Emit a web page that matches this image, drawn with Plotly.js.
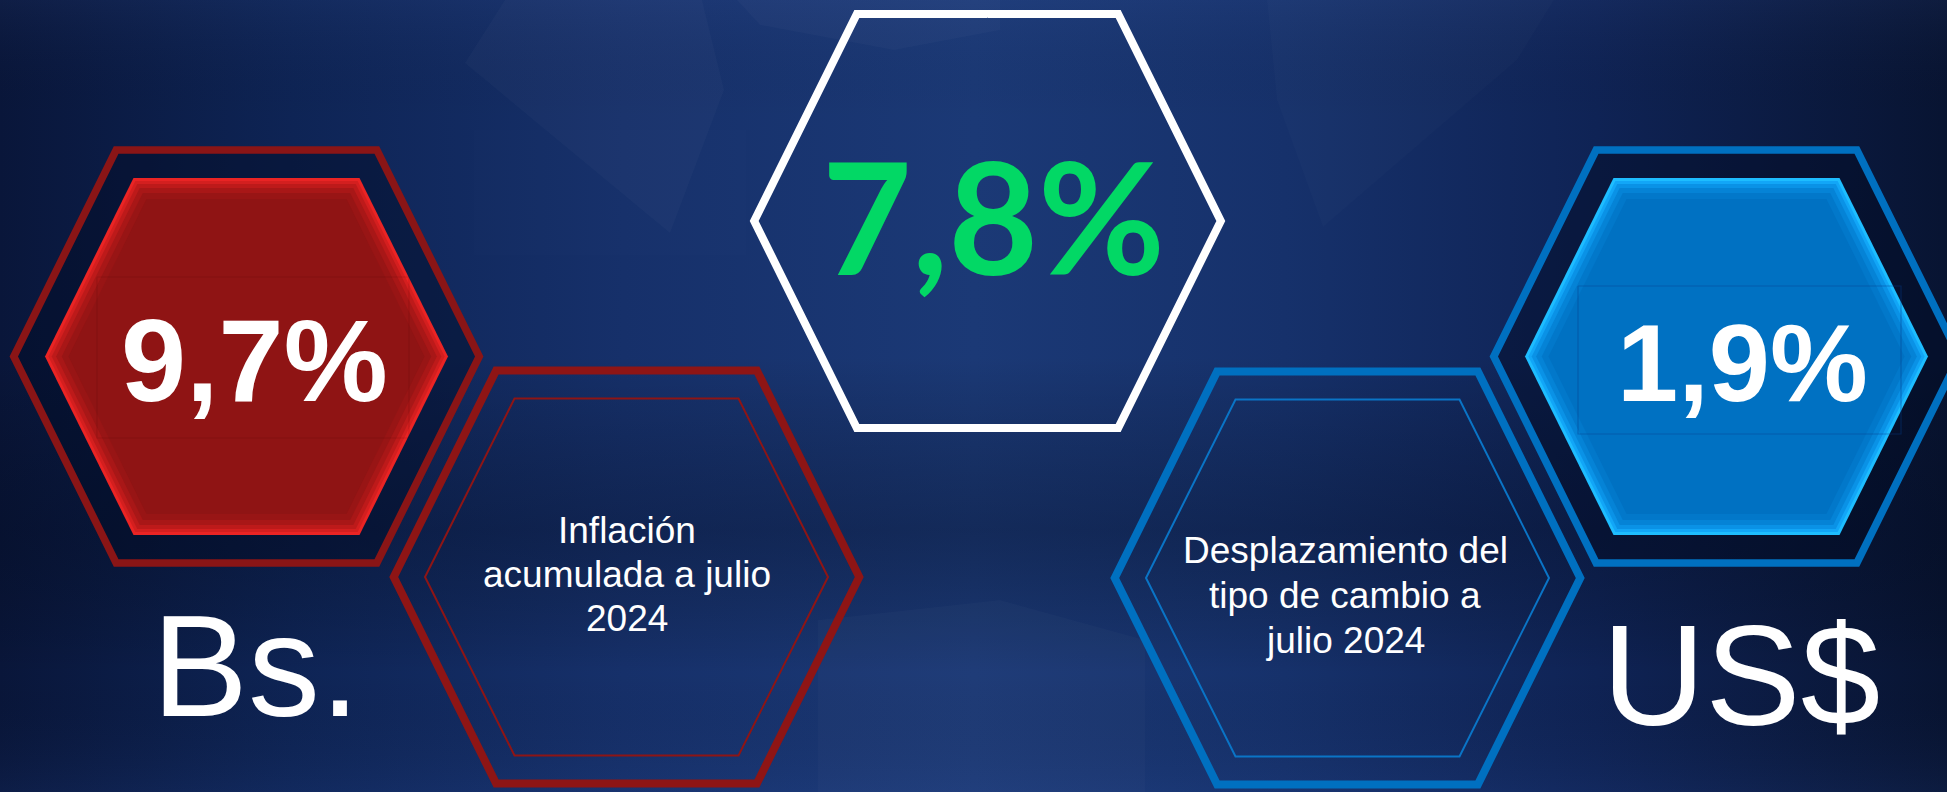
<!DOCTYPE html>
<html><head><meta charset="utf-8">
<script src="https://cdn.plot.ly/plotly-3.0.1.min.js"></script>
<style>html,body{margin:0;padding:0;background:#0d1f4d;overflow:hidden}#chart{width:1947px;height:792px}</style>
</head><body><div id="chart"></div>
<script>
// ---------------- DATA ----------------
const values = [9.7, 7.8, 1.9];            // Bs. inflation, total, US$ exchange shift
const currencies = ['Bs.', 'US$'];
const descInflacion = ['Inflación', 'acumulada a julio', '2024'];
const descCambio = ['Desplazamiento del', 'tipo de cambio a', 'julio 2024'];

// ---------------- GEOMETRY / STYLE ----------------
const W = 1947, H = 792;
const A0 = 201.5, B0 = 113, H0 = 178.5;
const L0 = Math.hypot(A0 - B0, H0);
function grow(d) { const a = A0 + d * L0 / H0; const h = H0 + d; const b = a - (A0 - B0) * h / H0; return {a, b, h}; }
function hexPts(cx, cy, g) {
  const px = [cx, cx + g.b, cx + g.a, cx + g.b, cx - g.b, cx - g.a, cx - g.b, cx];
  const py = [cy - g.h, cy - g.h, cy, cy + g.h, cy + g.h, cy, cy - g.h, cy - g.h];
  return {x: px, y: py.map(v => H - v)};
}
function polyPts(list) { const x = list.map(p => p[0]); const y = list.map(p => H - p[1]); x.push(x[0]); y.push(y[0]); return {x, y}; }
function fillTrace(p, color) { return {type: 'scatter', mode: 'lines', x: p.x, y: p.y, fill: 'toself', fillcolor: color, line: {width: 0, color: 'rgba(0,0,0,0)'}, hoverinfo: 'skip'}; }
function lineTrace(p, color, width) { return {type: 'scatter', mode: 'lines', x: p.x, y: p.y, line: {color: color, width: width}, hoverinfo: 'skip'}; }

const C = {
  leftFill: [246.5, 356.5], midRed: [626.5, 577], white: [987.5, 221],
  midBlue: [1347.5, 578], rightFill: [1726.5, 356.5]
};
const ring = grow(28);
const thin = {a: 201.5, b: 112, h: 178.5};

const traces = [];
// background horizontal gradient
const bg = polyPts([[0,0],[W,0],[W,H],[0,H]]);
traces.push({type:'scatter', mode:'lines', x:bg.x, y:bg.y, fill:'toself', line:{width:0},
  fillgradient:{type:'horizontal', colorscale:[[0,'#09163a'],[0.15,'#0e2455'],[0.32,'#16306a'],[0.5,'#1b3976'],[0.66,'#16316b'],[0.82,'#0f2355'],[1,'#081432']]},
  hoverinfo:'skip'});
// vertical shading overlay
traces.push({type:'scatter', mode:'lines', x:bg.x, y:bg.y, fill:'toself', line:{width:0},
  fillgradient:{type:'vertical', colorscale:[[0,'rgba(40,75,150,0.14)'],[0.15,'rgba(0,0,0,0)'],[0.33,'rgba(2,8,25,0.30)'],[0.55,'rgba(0,0,0,0)'],[0.85,'rgba(0,0,0,0)'],[1,'rgba(70,100,170,0.10)']]},
  hoverinfo:'skip'});
// faceted texture (subtle)
const facets = [
  [[465,63],[505,0],[702,0],[724,90],[670,233]],
  [[737,0],[1000,0],[1000,30],[894,50],[760,25]],
  [[1267,0],[1554,0],[1517,60],[1323,227],[1277,100]],
  [[818,620],[1000,600],[1145,640],[1145,792],[818,792]],
  [[474,130],[746,130],[746,255],[474,255]]
];
const facetAlpha = [0.025, 0.022, 0.016, 0.02, 0.008];
facets.forEach((f, i) => traces.push(fillTrace(polyPts(f), 'rgba(255,255,255,' + facetAlpha[i] + ')')));

// dark interior for outer rings (left & right)
traces.push(fillTrace(hexPts(C.leftFill[0], C.leftFill[1], ring), 'rgba(3,12,35,0.45)'));
traces.push(fillTrace(hexPts(C.rightFill[0], C.rightFill[1], ring), 'rgba(3,12,35,0.45)'));

// rings
traces.push(lineTrace(hexPts(C.leftFill[0], C.leftFill[1], ring), '#8a1516', 7.5));
traces.push(lineTrace(hexPts(C.rightFill[0], C.rightFill[1], ring), '#0070c0', 7.5));
traces.push(lineTrace(hexPts(C.midRed[0], C.midRed[1], ring), '#8e1515', 8));
traces.push(lineTrace(hexPts(C.midBlue[0], C.midBlue[1], ring), '#0070c0', 8));
traces.push(lineTrace(hexPts(C.white[0], C.white[1], grow(28.5)), '#ffffff', 8));
// thin inner lines
traces.push(lineTrace(hexPts(C.midRed[0], C.midRed[1], thin), '#8e1515', 2));
traces.push(lineTrace(hexPts(C.midBlue[0], C.midBlue[1], thin), '#0a74c6', 2));

// bevelled filled hexagons
const insets = [0, 3, 6, 10, 15, 21];
const redBevel = ['#ea2424', '#d41f1f', '#bd1a1a', '#a81717', '#981515', '#8f1414'];
const blueBevel = ['#1ebdff', '#12a6f7', '#0a92e6', '#0583d6', '#0278ca', '#0071c2'];
insets.forEach((d, i) => {
  traces.push(fillTrace(hexPts(C.leftFill[0], C.leftFill[1], grow(-d)), redBevel[i]));
});
insets.forEach((d, i) => {
  traces.push(fillTrace(hexPts(C.rightFill[0], C.rightFill[1], grow(-d)), blueBevel[i]));
});
// faint text-box outlines
traces.push(lineTrace(polyPts([[97,277],[409,277],[409,438],[97,438]]), 'rgba(70,8,10,0.15)', 1.2));
traces.push(lineTrace(polyPts([[1578,286],[1901,286],[1901,434],[1578,434]]), 'rgba(5,60,140,0.4)', 1.2));

// ---------------- TEXT ----------------
const fmt = v => v.toFixed(1).replace('.', ',') + '%';
const annotations = [];
function ann(text, x, yPix, size, color, family, weight) {
  annotations.push({text: text, x: x, y: H - yPix, xref: 'x', yref: 'y', showarrow: false,
    xanchor: 'center', yanchor: 'middle', font: {family: family, size: size, color: color, weight: weight}});
}
const ARIAL = 'Liberation Sans, Arial, sans-serif';
const valueStyle = [
  {x: 254, y: 360.5, size: 117, color: '#ffffff', family: ARIAL},
  {x: 993, y: 215, size: 155, color: '#02d865', family: 'Lato, sans-serif'},
  {x: 1742, y: 362, size: 110, color: '#ffffff', family: ARIAL}
];
values.forEach((v, i) => { const s = valueStyle[i]; ann(fmt(v), s.x, s.y, s.size, s.color, s.family, 700); });
const redY = [530, 574, 618], blueY = [550, 595, 640];
descInflacion.forEach((t, i) => ann(t, 627, redY[i], 37, '#ffffff', ARIAL, 400));
descCambio.forEach((t, i) => ann(t, 1345, blueY[i], 37, '#ffffff', ARIAL, 400));
ann(currencies[0], 256, 666.5, 144, '#ffffff', ARIAL, 400);
ann(currencies[1], 1741, 675.5, 143, '#ffffff', ARIAL, 400);

const layout = {
  width: W, height: H, margin: {l: 0, r: 0, t: 0, b: 0, pad: 0},
  paper_bgcolor: '#0d1f4d', plot_bgcolor: 'rgba(0,0,0,0)', showlegend: false,
  xaxis: {range: [0, W], visible: false, fixedrange: true},
  yaxis: {range: [0, H], visible: false, fixedrange: true},
  annotations: annotations
};
Plotly.newPlot('chart', traces, layout, {staticPlot: true, displayModeBar: false});
</script></body></html>
